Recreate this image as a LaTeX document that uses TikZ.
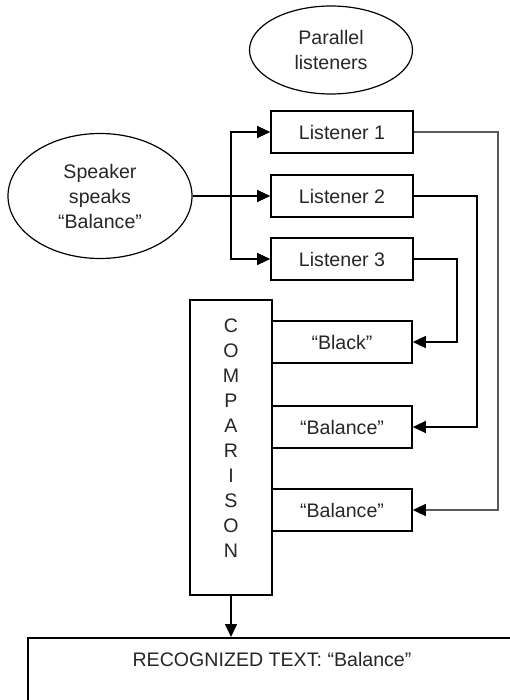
\documentclass[tikz,border=0pt]{standalone}
\usepackage{fontspec}
\setmainfont{Liberation Sans}
\usetikzlibrary{arrows.meta, shapes.geometric}

\begin{document}
\begin{tikzpicture}[x=0.5pt, y=-0.5pt,
    every node/.style={font=\fontsize{9.8}{12.5}\selectfont, text=black!85, align=center},
    bubble/.style={ellipse, draw, semithick, inner sep=0pt},
    box/.style={rectangle, draw, thick, minimum width=71pt, minimum height=21pt, inner sep=0pt},
    link/.style={semithick, -{Triangle[length=6.5pt, width=6pt, color=black]}}]
    \useasboundingbox (0,0) rectangle (509,700);

    %Nodes
    \node[bubble, minimum width=81.5pt, minimum height=44pt] at (331, 50) (par) {Parallel\\listeners};
    \node[bubble, minimum width=92pt, minimum height=62.5pt] at (100, 196) (spk) {Speaker\\speaks\\“Balance”};
    \node[box] at (342, 132) (l1) {Listener 1};
    \node[box] at (342, 196) (l2) {Listener 2};
    \node[box] at (342, 259) (l3) {Listener 3};
    \node[box, minimum width=41pt, minimum height=147.5pt] at (231, 447.5) (cmp) {};
    \node[] at (231, 438) (cmptxt) {C\\O\\M\\P\\A\\R\\I\\S\\O\\N};
    \node[box, minimum width=70pt] at (342, 342) (blk) {“Black”};
    \node[box, minimum width=70pt] at (342, 427) (bal1) {“Balance”};
    \node[box, minimum width=70pt] at (342, 510) (bal2) {“Balance”};
    \node[box, anchor=north, minimum width=244pt, inner ysep=8pt, text height=6.5pt, text depth=30pt] at (272, 637) (res) {RECOGNIZED TEXT: “Balance”};

    \coordinate (split) at (231, 196);
    \coordinate (r3) at (457, 342);
    \coordinate (r2) at (477, 427);
    \coordinate (r1) at (498, 510);

    %Lines
    \draw[semithick] (spk) -- (split);
    \draw[link] (split) -- (l2);
    \draw[link] (split) |- (l1);
    \draw[link] (split) |- (l3);
    \draw[link, thick] (l3.east) -| (r3) -- (blk.east);
    \draw[link] (l2.east) -| (r2) -- (bal1.east);
    \draw[link, draw=black!65] (l1.east) -| (r1) -- (bal2.east);
    \draw[link, thick] (cmp.south) -- (cmp.south |- res.north);

    \end{tikzpicture}
\end{document}
